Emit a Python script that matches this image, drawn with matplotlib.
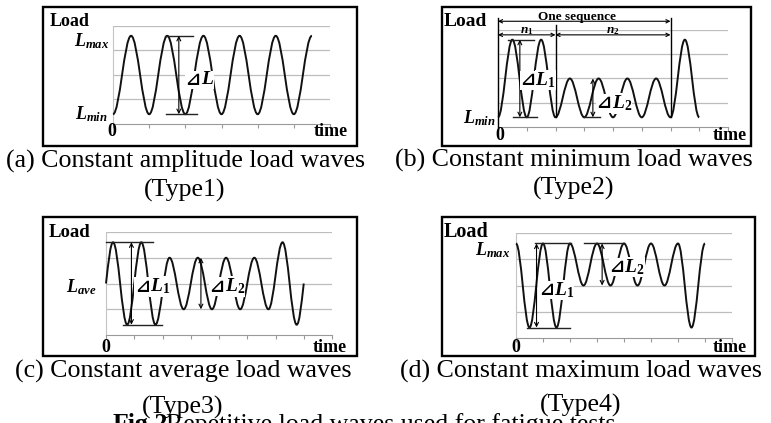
import matplotlib
matplotlib.use("Agg")
import matplotlib.pyplot as plt
from matplotlib.path import Path
from matplotlib.patches import PathPatch, Rectangle

W, H = 771, 423

plt.rcParams["font.family"] = ["Liberation Serif", "DejaVu Serif"]
plt.rcParams["mathtext.fontset"] = "custom"
plt.rcParams["mathtext.it"] = "Liberation Serif:italic:bold"
plt.rcParams["mathtext.rm"] = "Liberation Serif:bold"
plt.rcParams["mathtext.bf"] = "Liberation Serif:bold"

# turning points of each load wave (x in tick units, y in grid units 0..4)
a_x = [0, 0.5, 1, 1.5, 2, 2.5, 3, 3.5, 4, 4.5, 5, 5.5]
a_y = [0.4, 3.6, 0.4, 3.6, 0.4, 3.6, 0.4, 3.6, 0.4, 3.6, 0.4, 3.6]

b_x = [0, 0.5, 1, 1.5, 2, 2.5, 3, 3.5, 4, 4.5, 5, 5.5, 6, 6.5, 7]
b_y = [0.4, 3.6, 0.4, 3.6, 0.4, 2.0, 0.4, 2.0, 0.4, 2.0, 0.4, 2.0, 0.4, 3.6, 0.4]

c_x = [0, 0.25, 0.75, 1.25, 1.75, 2.25, 2.75, 3.25, 3.75, 4.25, 4.75, 5.25, 5.75, 6.25, 6.75, 7]
c_y = [2.0, 3.6, 0.4, 3.6, 0.4, 3.0, 1.0, 3.0, 1.0, 3.0, 1.0, 3.0, 1.0, 3.6, 0.4, 2.0]

d_x = [0, 0.5, 1, 1.5, 2, 2.5, 3, 3.5, 4, 4.5, 5, 5.5, 6, 6.5, 7]
d_y = [3.6, 0.4, 3.6, 0.4, 3.6, 2.0, 3.6, 2.0, 3.6, 2.0, 3.6, 2.0, 3.6, 0.4, 3.6]

captions = ["(a) Constant amplitude load waves", "(b) Constant minimum load waves",
            "(c) Constant average load waves", "(d) Constant maximum load waves"]
types = ["(Type1)", "(Type2)", "(Type3)", "(Type4)"]
fig_title = ("Fig.2", "Repetitive load waves used for fatigue tests")

fig = plt.figure(figsize=(W / 100, H / 100), dpi=100)


def px_axes(l, t, r, b):
    return fig.add_axes([l / W, 1 - b / H, (r - l) / W, (b - t) / H])


def ftext(x, y, s, **kw):
    return fig.text(x / W, 1 - y / H, s, **kw)


def frame(l, t, r, b):
    fig.add_artist(Rectangle((l / W, 1 - b / H), (r - l) / W, (b - t) / H,
                             transform=fig.transFigure, fill=False, lw=1.7, ec="black"))


def wave(ax, xs, ys, open_ends=False):
    # smooth path through the turning points, flat at the peaks
    k = 0.364
    verts = [(xs[0], ys[0])]
    codes = [Path.MOVETO]
    n = len(xs)
    for i in range(n - 1):
        x0, y0, x1, y1 = xs[i], ys[i], xs[i + 1], ys[i + 1]
        dx = x1 - x0
        m0 = m1 = 0.0
        if open_ends and i == 0:
            m0 = 1.5 * (y1 - y0) / dx
        if open_ends and i == n - 2:
            m1 = 1.5 * (y1 - y0) / dx
        verts += [(x0 + k * dx, y0 + m0 * k * dx), (x1 - k * dx, y1 - m1 * k * dx), (x1, y1)]
        codes += [Path.CURVE4] * 3
    ax.add_patch(PathPatch(Path(verts, codes), fill=False, lw=1.4, ec="#111111", zorder=3,
                           clip_on=False))


def setup(ax, xmax):
    ax.set_xlim(0, xmax)
    ax.set_ylim(0, 4)
    ax.set_xticks(range(xmax + 1))
    ax.set_yticks([1, 2, 3, 4])
    ax.set_axisbelow(True)
    ax.grid(axis="y", color="#bdbdbd", lw=0.9)
    ax.grid(axis="x", visible=False)
    ax.tick_params(axis="x", length=3, color="#9a9a9a", labelbottom=False, direction="out")
    ax.tick_params(axis="y", length=0, labelleft=False)
    for s in ["top", "right"]:
        ax.spines[s].set_visible(False)
    ax.spines["left"].set_color("#c4c4c4")
    ax.spines["bottom"].set_color("#9a9a9a")
    ax.patch.set_alpha(0)


def arrow(ax, x, y0, y1):
    ax.annotate("", xy=(x, y1), xytext=(x, y0),
                arrowprops=dict(arrowstyle="<->", lw=0.8, color="black",
                                shrinkA=0, shrinkB=0, mutation_scale=7),
                annotation_clip=False, zorder=4)


def hline(ax, y, x0, x1):
    ax.plot([x0, x1], [y, y], color="#222222", lw=1.0, zorder=4, clip_on=False)


def delta(ax, x, y, sub, size=14):
    box = dict(facecolor="white", edgecolor="none", pad=0.3)
    ax.text(x, y, "\u22bf", ha="right", va="center", fontsize=size - 1,
            family="DejaVu Sans", fontweight="bold", fontstyle="italic", bbox=box, zorder=5)
    s = "$L$" if sub == "" else "$L_{%s}$" % sub
    ax.text(x, y, s, ha="left", va="center", fontsize=size, bbox=box, zorder=5)


# panel frames
frame(43, 7, 357, 146)
frame(442, 7, 751, 146)
frame(43, 217, 357, 356)
frame(442, 217, 755, 356)

# (a)
ax = px_axes(113, 26, 330, 124)
setup(ax, 6)
wave(ax, a_x, a_y)
hline(ax, 3.6, 1.44, 2.21)
hline(ax, 0.4, 1.46, 2.32)
arrow(ax, 1.82, 0.4, 3.6)
delta(ax, 2.42, 1.8, "")
ftext(70, 22, "Load", ha="center", va="center", fontsize=13, fontweight="bold")
ftext(92, 41, "$L_{max}$", ha="center", va="center", fontsize=13)
ftext(91, 114, "$L_{min}$", ha="center", va="center", fontsize=13)
ftext(112, 132, "0", ha="center", va="center", fontsize=13, fontweight="bold")
ftext(331, 132, "time", ha="center", va="center", fontsize=13, fontweight="bold")

# (b)
ax = px_axes(498, 30, 728, 127)
setup(ax, 8)
wave(ax, b_x, b_y)
ax.plot([0, 0], [0, 4.5], color="black", lw=1.0, clip_on=False, zorder=4)
ax.plot([2, 2], [0.4, 4.2], color="black", lw=1.0, clip_on=False, zorder=4)
ax.plot([6, 6], [0.4, 4.5], color="black", lw=1.0, clip_on=False, zorder=4)
arrow_h = dict(arrowstyle="<->", lw=0.8, color="black", shrinkA=0, shrinkB=0, mutation_scale=6)
ax.annotate("", xy=(6, 4.36), xytext=(0, 4.36), arrowprops=arrow_h, annotation_clip=False)
ax.annotate("", xy=(2, 3.8), xytext=(0, 3.8), arrowprops=arrow_h, annotation_clip=False)
ax.annotate("", xy=(6, 3.8), xytext=(2, 3.8), arrowprops=arrow_h, annotation_clip=False)
ax.text(2.75, 4.42, "One sequence", ha="center", va="baseline", fontsize=9.5,
        fontweight="bold", clip_on=False)
ax.text(1.0, 3.86, "$n_1$", ha="center", va="baseline", fontsize=9.5, clip_on=False)
ax.text(4.0, 3.86, "$n_2$", ha="center", va="baseline", fontsize=9.5, clip_on=False)
hline(ax, 3.6, 0.35, 1.25)
hline(ax, 0.4, 0.52, 1.35)
hline(ax, 0.4, 3.0, 3.55)
arrow(ax, 0.76, 0.4, 3.6)
arrow(ax, 3.3, 0.4, 2.0)
delta(ax, 1.3, 1.93, "1")
delta(ax, 3.95, 0.97, "2")
ftext(465, 22, "Load", ha="center", va="center", fontsize=14, fontweight="bold")
ftext(479, 118, "$L_{min}$", ha="center", va="center", fontsize=13)
ftext(500, 136, "0", ha="center", va="center", fontsize=13, fontweight="bold")
ftext(730, 136, "time", ha="center", va="center", fontsize=13, fontweight="bold")

# (c)
ax = px_axes(106, 232, 332, 335)
setup(ax, 8)
wave(ax, c_x, c_y, open_ends=True)
hline(ax, 3.6, 0.0, 1.67)
hline(ax, 0.4, 0.59, 1.97)
arrow(ax, 0.9, 0.4, 3.6)
arrow(ax, 3.36, 1.0, 3.0)
delta(ax, 1.55, 1.88, "1")
delta(ax, 4.2, 1.88, "2")
ftext(70, 232, "Load", ha="center", va="center", fontsize=13.5, fontweight="bold")
ftext(81, 287, "$L_{ave}$", ha="center", va="center", fontsize=13)
ftext(106, 347, "0", ha="center", va="center", fontsize=13, fontweight="bold")
ftext(330, 347, "time", ha="center", va="center", fontsize=13, fontweight="bold")

# (d)
ax = px_axes(516, 233, 732, 338)
setup(ax, 8)
wave(ax, d_x, d_y)
hline(ax, 3.6, 0.7, 2.05)
hline(ax, 3.6, 2.5, 4.0)
hline(ax, 0.4, 0.39, 2.0)
arrow(ax, 0.76, 0.4, 3.6)
arrow(ax, 3.19, 2.0, 3.6)
delta(ax, 1.4, 1.83, "1")
delta(ax, 4.0, 2.7, "2")
ftext(466, 232, "Load", ha="center", va="center", fontsize=14.5, fontweight="bold")
ftext(493, 250, "$L_{max}$", ha="center", va="center", fontsize=13)
ftext(516, 347, "0", ha="center", va="center", fontsize=13, fontweight="bold")
ftext(730, 348, "time", ha="center", va="center", fontsize=13, fontweight="bold")

# captions
cap_x = [185, 574, 183, 581]
cap_y = [168, 167, 378, 378]
type_y = [197, 195, 414, 412]
for i in range(4):
    ftext(cap_x[i], cap_y[i], captions[i], ha="center", va="baseline", fontsize=18.6)
    ftext(cap_x[i], type_y[i], types[i], ha="center", va="baseline", fontsize=18.6)

ftext(113, 431, fig_title[0], ha="left", va="baseline", fontsize=18.6, fontweight="bold")
ftext(166, 431, fig_title[1], ha="left", va="baseline", fontsize=18.6)

fig.savefig("out.png", dpi=100)
